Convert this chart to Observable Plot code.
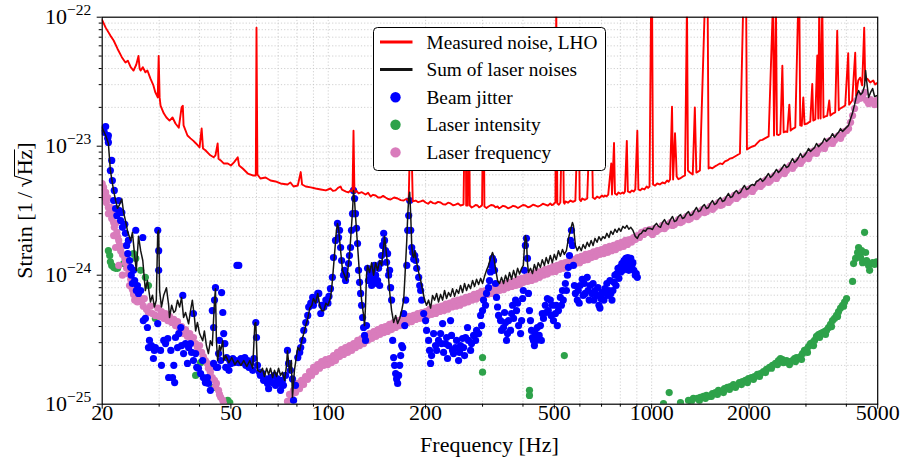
<!DOCTYPE html>
<html>
<head>
<meta charset="utf-8">
<script src="https://cdn.jsdelivr.net/npm/d3@7"></script>
<script src="https://cdn.jsdelivr.net/npm/@observablehq/plot@0.6"></script>
<style>
  html, body { margin: 0; padding: 0; background: #fff; }
  #chart { width: 908px; height: 467px; }
</style>
</head>
<body>
<div id="chart"></div>
<script>
// Strain values are given in units of 1e-24 1/sqrt(Hz); frequencies in Hz.
const UNIT = 1e-24;

const seriesNames = ["Measured noise, LHO", "Sum of laser noises", "Beam jitter", "Laser intensity", "Laser frequency"];
const seriesColors = ["#ff0000", "#141414", "#0000ff", "#2ea24a", "#d97cbc"];
const seriesKinds = ["line", "line", "dot", "dot", "dot"];

const xMajorTicks = [20, 50, 100, 200, 500, 1000, 2000, 5000];
const xTickLabels = ["20", "50", "100", "200", "500", "1000", "2000", "5000"];
const xMinorTicks = [30, 40, 60, 70, 80, 90, 300, 400, 600, 700, 800, 900, 3000, 4000];
const xGrid = [30, 40, 50, 60, 70, 80, 90, 100, 200, 300, 400, 500, 600, 700, 800, 900, 1000, 2000, 3000, 4000];
const yMajorTicks = [1e-25, 1e-24, 1e-23, 1e-22];
const yTickExponents = ["−25", "−24", "−23", "−22"];
const yMinorTicks = [2e-25, 3e-25, 4e-25, 5e-25, 6e-25, 7e-25, 8e-25, 9e-25, 2e-24, 3e-24, 4e-24, 5e-24, 6e-24, 7e-24, 8e-24, 9e-24, 2e-23, 3e-23, 4e-23, 5e-23, 6e-23, 7e-23, 8e-23, 9e-23];
const yGrid = yMinorTicks.concat([1e-24, 1e-23]);

const measuredNoise = [
[20.0,95],[20.5,83],[21.2,72],[21.7,66],[22.3,57],[23.0,49],[23.6,44.5],[24.0,46],[24.5,41],[25.0,38.6],[25.5,43],[25.9,50],[26.1,40],[26.3,38.6],[26.7,41],[27.2,37.4],[27.6,38.6],[28.2,33.4],[28.8,29.6],[29.2,26.1],[29.7,23.9],[29.9,50],[30.1,23.9],[30.3,20.6],[31.0,18],[31.6,16.7],[32.3,15.8],[33.0,16.7],[33.7,15.0],[34.5,13.9],[35.2,20],[35.5,20.6],[35.7,14.5],[36.7,12.1],[37.5,11.5],[38.3,11.0],[39.0,10.5],[40.0,9.8],[40.6,13.7],[41.0,9.6],[41.7,9.3],[42.6,8.8],[43.2,8.5],[44.2,8.2],[44.8,8.5],[45.5,10.5],[45.8,8.0],[46.5,7.76],[47.5,7.35],[48.9,7.35],[50.0,7.09],[51.1,7.5],[52.5,8.2],[53.0,7.09],[54.4,6.72],[56.4,6.14],[58.4,5.93],[59.7,5.93],[60.0,83],[60.4,6.03],[61.7,5.62],[64.0,5.72],[66.3,5.42],[68.7,5.33],[71.2,5.14],[74.8,5.05],[76.4,5.23],[78.1,4.87],[80.5,4.96],[82.2,6.3],[83.0,5.05],[85.2,4.87],[88.3,4.79],[91.4,4.70],[94.8,4.62],[98.3,4.54],
[101.6,4.70],[103.4,4.50],[105.3,4.54],[107.2,4.75],[109.2,4.87],[110.3,4.6],[111.5,4.54],[113.5,4.45],[115.5,4.38],[117.2,4.55],[118.9,4.46],[119.7,13.2],[120.5,4.38],[122.3,4.5],[124.1,4.30],[127,4.40],[130.4,4.22],[132.8,4.35],[135.2,4.07],[137.6,4.2],[140.1,4.15],[142.6,4.0],[145.2,4.0],[147.8,4.12],[150.4,4.0],[153,3.9],[155.9,3.86],[159.8,4.0],[163.9,3.93],[167.5,3.82],[171.1,3.79],[174.2,3.9],[177.3,3.79],[179.9,20],[182.5,3.73],
[186.4,3.79],[189.7,3.68],[193.1,3.73],[196.5,3.8],[200,3.66],[203.6,3.58],[207.2,3.73],[211,3.62],[214.7,3.60],[218.6,3.70],[222.5,3.66],[226.5,3.55],[230.5,3.53],[234.7,3.65],[238.9,3.60],[243.2,3.48],[247.5,3.53],[252,3.60],[256.5,3.47],[262,3.53],[265.8,50],[267,3.47],[270,3.47],[272,40],[274,3.47],[277.7,3.35],[281.4,3.41],[285.5,3.50],[289.6,3.47],[292.7,3.36],[295.9,3.41],[299,3.5],[302.1,50],[304,3.41],[308.5,3.32],[313,3.41],[318.7,3.50],[324.4,3.47],[329,3.36],[333.8,3.41],[337.4,3.30],[341,3.35],[347,3.45],[353,3.41],[359.5,3.30],[366,3.35],[372.7,3.45],[379.5,3.41],[386,3.32],[393,3.41],[400,3.50],[407,3.47],[414.5,3.36],[422,3.41],[429.5,3.52],[437,3.47],[445,3.40],[453,3.47],[461,3.58],[469,3.53],[477.5,3.46],[486,3.60],[491,3.50],[497,3.53],[500.5,3.62],[504,3.66],[507,130],[511,3.60],[516.5,3.52],[522,3.66],[531,30],[535,3.66],[538,3.58],[541,3.73],[551,3.65],[561,3.79],[571,3.70],[581,3.79],[595,30],[599,3.86],[604.5,3.76],[610,3.93],[621,3.84],[632,3.93],[650,30],[658,4.0],[668,3.9],[678,4.07],[690,3.97],[702,4.15],[709.5,4.05],[717,4.15],[725.5,4.08],[734,4.22],[750,7.35],[754,4.22],[765,10.6],[770,4.30],[780,4.2],[790,4.38],[801,4.28],[813,4.38],[820,4.3],[827,4.46],[838,11.0],[844,4.46],[856.5,4.38],[869,4.54],[879.5,4.45],[890,4.62],[903,13.2],[910,4.62],[922.5,4.55],[935,4.70],[950,4.62],[965,4.87],[975,4.75],[985,4.87],[996,130],[1003,130],[1010,5.05],[1025,4.95],[1040,5.14],[1060,5.05],[1080,5.23],[1098,5.15],[1116,5.42],[1128,5.3],[1140,5.52],[1156,20.2],[1165,5.52],[1181,12.6],[1190,8],[1195,5.82],[1210,5.55],[1224,5.62],[1246,5.8],[1268,5.93],[1286,130],[1295,6.48],[1313,6.25],[1340,6.03],[1360,20],[1375,6.25],[1392,6.35],[1410,6.48],[1461,130],[1475,130],[1490,130],[1500,6.72],[1514,6.84],[1541,6.75],[1569,6.97],[1597,7.15],[1626,7.35],[1655,7.25],[1685,7.62],[1715,7.75],[1746,8.02],[1777,8.1],[1809,8.32],[1842,8.55],[1875,8.78],
[1920,130],[1940,130],[1960,130],[1971,9.43],[2014,9.75],[2050,9.95],[2086,10.1],[2124,10.6],[2162,11.1],[2200,11.2],[2240,11.5],[2270,11.7],[2300,11.9],[2372,130],[2390,12.1],[2423,130],[2440,12.3],[2470,12.2],[2500,12.5],[2536,42],[2560,12.8],[2590,13.0],[2627,12.9],[2665,21],[2690,13.2],[2715,13.5],[2740,13.7],[2781,14.0],[2840,130],[2862,130],[2880,14.5],[2912,14.4],[2944,23.9],[2970,14.8],[3029,15.0],[3060,15.3],[3094,15.5],[3138,30.4],[3160,15.8],[3206,16.1],[3252,50.5],[3275,16.4],[3298,130],[3330,16.4],[3369,130],[3400,16.7],[3441,17.0],[3490,17.2],[3541,22.6],[3570,17.3],[3610,17.7],[3643,18.0],[3695,18.3],[3748,78.6],[3790,19.0],[3829,19.6],[3900,20.1],[3967,20.7],[4053,52.5],[4080,21.0],[4170,22.6],[4260,53],[4290,24.7],[4352,32.3],[4414,34],[4477,29.6],[4542,83],[4574,32.3],[4640,33.4],[4740,31.2],[4843,32.3],[4912,30.1],[4990,31]
];

const laserSum = [
[20.0,13.9],[20.5,12.1],[20.9,10.5],[21.2,6.5],[21.5,5.2],[21.7,4.5],[22.0,3.8],[22.3,3.3],[22.6,3.5],[23.0,3.9],[23.3,3.05],[23.6,2.65],[24.0,2.15],[24.5,1.86],[24.8,2.15],[25.2,1.42],[25.5,1.09],[25.9,2.0],[26.3,1.55],[26.7,1.3],[27.2,0.76],[27.6,0.91],[28.2,0.62],[28.6,0.70],[29.0,0.567],[29.4,0.64],[29.7,2.15],[29.9,2.23],[30.1,0.76],[30.5,0.567],[31.0,0.70],[31.6,0.80],[32.1,0.585],[32.3,0.47],[32.8,0.585],[33.3,0.514],[33.7,0.53],[34.2,0.64],[34.7,0.567],[35.2,0.67],[35.7,0.47],[36.2,0.514],[37.0,0.42],[37.5,0.53],[38.0,0.64],[38.6,0.46],[38.9,0.37],[39.4,0.43],[40.0,0.353],[40.9,0.31],[41.4,0.37],[42.0,0.285],[42.6,0.247],[43.2,0.31],[43.8,0.285],[44.5,0.64],[44.8,0.786],[45.1,0.31],[45.5,0.218],[46.1,0.285],[46.5,0.26],[47.2,0.31],[47.5,0.218],[48.2,0.238],[49.3,0.21],[50.3,0.23],[51.4,0.203],[52.5,0.218],[53.7,0.20],[54.8,0.218],[56.0,0.196],[57.2,0.218],[58.4,0.19],[59.3,0.422],[59.7,0.43],[60.4,0.183],[61.7,0.177],[62.6,0.19],[63.5,0.164],[64.5,0.19],[65.4,0.17],[66.3,0.19],[67.3,0.161],[68.2,0.183],[69.2,0.164],[70.2,0.19],[71.2,0.167],[72.2,0.177],[73.3,0.153],[74.3,0.20],[74.8,0.26],[75.9,0.177],[76.9,0.218],[77.5,0.113],[78.6,0.183],[79.8,0.238],[80.5,0.275],[81.6,0.26],[82.8,0.31],[84.0,0.353],[85.2,0.407],[86.4,0.46],[87.7,0.556],[89.0,0.585],[90.0,0.66],[91.4,0.607],[92.8,0.722],[94.1,0.585],[95.5,0.53],[96.9,0.53],[98.3,0.607],[99.8,0.585],[101,0.64],[101.6,0.672],[102.3,0.76],[103,0.91],[104.5,1.42],[106,2.23],[106.8,2.52],[107.6,2.31],[109.2,1.55],[110.7,1.09],[112.3,1.0],[113.9,0.91],[114.7,1.05],[116.3,1.42],[117.2,1.86],[118.9,3.17],[119.7,4.54],[120.6,3.79],[121.4,2.9],[123.2,1.70],[125.0,1.0],[126.8,0.64],[128.6,0.488],[129.5,0.407],[130.4,0.585],[131.3,1.0],[132.3,1.19],[134.2,1.05],[136.2,1.25],[138.1,1.0],[140.1,1.25],[142.1,1.09],[144.2,1.30],[146.2,1.19],[148.4,1.70],[149.3,2.0],[150.4,1.70],[152.6,1.19],[154.7,0.761],[157,0.532],[159.3,0.43],[161.6,0.488],[163.9,0.422],[166.3,0.462],[168.7,0.532],[171.1,0.641],[172.4,0.91],[174.9,1.86],[176.1,2.9],[177.3,3.93],[178.6,4.4],[179.9,2.9],[181.2,1.70],[182.5,1.42],[183.8,1.37],[185.1,1.55],[187.7,1.25],[190.4,1.05],[193.1,0.91],[195.9,0.761],[198.6,0.641],[201.4,0.585],[204.3,0.641],[207.2,0.556],[210.2,0.697],[213.2,0.641],[216.3,0.722],[219.3,0.62],[222.5,0.71],[225.7,0.641],[228.9,0.761],[232.2,0.66],[235.5,0.734],[238.9,0.685],[242.3,0.786],[245.8,0.685],[249.3,0.773],[252.9,0.722],[256.5,0.832],[260.2,0.734],[263.9,0.862],[267.7,0.761],[271.5,0.847],[275.5,0.786],[279.4,0.91],[283.4,0.817],[287.5,0.93],[291.7,0.847],[295.9,0.945],[300,0.862],[304.3,0.98],[308.6,1.09],[313,1.19],[317.5,1.35],[322,1.5],[324.4,1.42],[329,1.13],[333.8,0.91],[338.6,0.862],[343.4,0.962],[348.4,0.862],[353.4,1.0],[358.4,0.895],[363.6,1.05],[368.8,0.93],[374.2,1.09],[379.5,0.962],[385,1.13],[390.5,1.02],[396.2,1.13],[401,1.19],[404,1.61],[407,2.03],[410,1.86],[413,1.25],[416,1.05],[422,1.13],[428,1.03],[434,1.21],[440,1.09],[446,1.25],[453,1.15],[459,1.32],[466,1.19],[472,1.37],[479,1.23],[486,1.42],[493,1.25],[500,1.45],[507,1.32],[515,1.55],[522,1.40],[530,1.58],[537,1.45],[545,1.55],[553,1.93],[561,2.23],[569,2.56],[573,2.43],[581,1.70],[589,1.55],[597,1.67],[606,1.55],[614,1.73],[623,1.61],[632,1.80],[641,1.67],[650,1.86],[659,1.70],[668,1.93],[678,1.80],[687,1.99],[697,1.86],[707,1.99],[717,1.93],[727,2.11],[738,1.96],[748,2.19],[759,2.07],[770,2.27],[781,2.15],[792,2.31],[803,2.19],[815,2.39],[827,2.31],[838,2.43],[850,2.27],[862,2.35],[875,2.23],[890,2.0],[903,1.93],[916,2.07],[929,2.11],[943,2.23],[957,2.19],[971,2.31],
[992,2.30],[1006,2.26],[1021,2.43],[1035,2.52],[1050,2.39],[1065,2.35],[1080,2.56],[1096,2.70],[1111,2.52],[1127,2.47],[1143,2.70],[1160,2.85],[1176,2.61],[1193,2.65],[1210,2.85],[1228,2.95],[1245,2.75],[1263,2.80],[1281,3.0],[1300,3.11],[1318,2.90],[1337,2.95],[1356,3.17],[1376,3.35],[1395,3.11],[1415,3.17],[1436,3.41],[1456,3.53],[1477,3.29],[1498,3.35],[1520,3.60],[1542,3.79],[1564,3.53],[1586,3.60],[1609,3.86],[1632,4.0],[1655,3.73],[1679,3.79],[1703,4.07],[1728,4.30],[1752,4.0],[1777,4.07],[1803,4.38],[1829,4.54],[1855,4.30],[1882,4.38],[1909,4.70],[1936,4.96],[1964,4.62],[1992,4.70],[2021,4.96],[2050,5.05],[2079,4.96],[2109,5.33],[2139,5.42],[2170,5.62],[2201,5.33],[2233,5.52],[2265,5.82],[2297,6.14],[2330,5.72],[2364,5.93],[2398,6.25],[2432,6.60],[2467,6.25],[2502,6.48],[2538,6.84],[2575,7.22],[2612,6.84],[2649,6.97],[2687,7.48],[2726,8.02],[2765,7.48],[2805,7.75],[2845,8.17],[2886,8.78],[2927,8.17],[2969,8.47],[3012,8.94],[3055,9.6],[3099,9.10],[3143,9.43],[3189,9.75],[3234,10.5],[3281,9.92],[3328,10.3],[3376,10.7],[3424,11.5],[3473,10.9],[3523,11.3],[3574,11.7],[3625,12.5],[3677,11.7],[3730,12.3],[3784,12.8],[3838,13.7],[3893,13.0],[3949,13.5],[4006,14.0],[4063,14.5],[4122,16.3],[4181,18.2],[4241,21.0],[4302,24.7],[4364,27.0],[4426,25.1],[4490,26.1],[4554,29.5],[4587,38.6],[4620,32.3],[4686,23.9],[4753,26.1],[4822,28.0],[4891,24.3],[4990,24.7]
];

const beamJitter = [
[20.2,13.7],[20.3,12.8],[20.5,14.2],[20.8,11.5],[20.9,10.7],[20.9,12.1],[21.2,6.48],[21.4,7.76],[21.5,5.42],[21.7,3.79],[21.8,4.54],[22.0,3.29],[22.2,2.9],[22.5,3.79],[22.6,3.17],[22.8,2.65],[23.0,3.06],[23.1,2.35],[23.5,2.48],[23.6,2.11],[23.8,1.70],[24.0,1.47],[24.1,1.86],[24.3,1.30],[24.5,1.15],[24.6,1.0],[24.8,0.862],[25.0,1.09],[25.2,0.91],[25.4,2.23],[25.5,0.761],[25.7,0.832],[25.9,0.722],[26.3,0.761],[26.7,1.96],[26.8,0.445],[27.2,0.462],[27.6,0.393],[27.8,0.275],[28.0,0.312],[28.4,0.285],[28.6,0.275],[28.8,0.226],[29.0,0.261],[29.2,0.275],[29.7,2.23],[29.7,0.422],[29.9,1.09],[29.9,1.55],[30.3,0.261],[30.5,0.200],[31.0,0.312],[31.4,0.295],[31.9,0.323],[32.1,0.161],[32.6,0.261],[33.0,0.161],[33.3,0.200],[33.5,0.147],[33.7,0.329],[34.2,0.275],[34.5,0.353],[35.0,0.393],[35.2,0.285],[35.5,0.697],[35.7,0.247],[36.2,0.295],[36.7,0.207],[37.0,0.275],[37.5,0.295],[37.8,0.252],[38.3,0.505],[38.3,0.218],[38.9,0.247],[39.2,0.193],[39.7,0.190],[40.3,0.173],[40.9,0.218],[41.1,0.161],[41.7,0.147],[42.3,0.161],[42.6,0.145],[43.2,0.128],[43.8,0.532],[44.2,0.393],[44.2,0.207],[44.5,0.641],[44.8,0.80],[45.1,0.193],[45.5,0.193],[45.8,0.247],[46.1,0.312],[46.5,0.218],[46.8,0.734],[47.2,0.514],[47.5,0.353],[47.9,0.295],[48.2,0.193],[48.5,0.230],[49.3,0.183],[49.6,0.218],[50.0,0.207],[50.7,0.226],[51.1,0.210],[51.8,0.218],[52.2,1.19],[52.9,1.19],[52.9,0.210],[53.7,0.226],[54.4,0.210],[55.2,0.230],[55.6,0.200],[56.4,0.218],[56.8,0.193],[57.6,0.210],[58.4,0.183],[58.9,0.226],[59.7,0.43],[60.0,0.329],[60.4,0.200],[61.3,0.177],[61.7,0.167],[62.6,0.173],[63.1,0.153],[64.0,0.157],[64.9,0.145],[65.4,0.132],[66.3,0.161],[67.3,0.147],[68.2,0.167],[68.7,0.140],[69.7,0.157],[70.7,0.145],[71.2,0.128],[72.2,0.153],[72.7,0.140],[73.8,0.167],[74.8,0.261],[75.4,0.207],[76.4,0.183],[77.5,0.157],[78.1,0.107],[79.2,0.140],[80.5,0.230],[81.6,0.252],[82.2,0.275],[83.4,0.312],[84.0,0.373],[85.2,0.43],[86.4,0.488],[87.0,0.567],[88.3,0.607],[89.5,0.672],[90.0,0.585],[91.4,0.641],[92.8,0.722],[93.5,0.722],[94.8,0.505],[95.5,0.585],[96.9,0.567],[98.3,0.641],[99.8,0.607],[100.5,0.685],[101.6,0.786],[103.0,0.962],[103.8,1.37],[105.3,1.86],[106.8,2.52],[107.6,1.96],[108.4,2.23],[109.2,1.64],[110,1.30],[111.5,1.0],[112.3,1.09],[113.1,0.91],[113.9,1.0],[115.5,1.23],[116.3,1.42],[117.2,1.64],[118,2.23],[118.9,3.0],[119.7,4.54],[120.6,3.93],[121.4,3.0],[122.3,2.31],[123.2,1.76],[124.1,1.09],[125,0.88],[125.9,0.722],[126.8,0.585],[127.7,0.47],[128.6,0.393],[129.5,0.341],[130.4,0.312],[131.3,0.407],[132.3,1.13],[133.2,0.91],[134.2,1.05],[135.2,0.962],[136.2,0.832],[137.1,1.09],[138.1,0.91],[139.1,1.19],[140.1,1.0],[141.1,0.862],[142.1,0.91],[143.1,1.13],[144.2,0.832],[145.2,1.23],[146.2,1.42],[147.3,1.70],[148.4,2.11],[149.3,1.86],[150.4,1.55],[151.5,1.26],[152.6,1.47],[153.7,1.0],[154.8,1.09],[155.9,0.80],[157,0.641],[158.2,0.312],[159.3,0.230],[160.4,0.200],[161.6,0.173],[162.7,0.157],[163.9,0.145],[165.1,0.167],[166.3,0.200],[167.5,0.238],[168.7,0.285],[169.9,0.275],[171.1,0.505],[172.4,0.407],[173.6,0.641],[174.9,1.19],[176.1,2.23],[177.3,2.9],[178.6,3.79],[179.9,2.23],[181.2,1.64],[182.5,1.5],[183.8,1.33],[185.1,1.42],[186.4,1.30],[187.7,1.13],[190.4,0.962],[191.8,0.832],[193.1,0.761],[194.5,0.641],[197.3,0.505],[200,0.445],[201.4,0.373],[204.3,0.312],[205.7,0.261],[207.2,0.207],[208.7,0.238],[211.7,0.353],[214.7,0.285],[216.3,0.261],[219.3,0.312],[222.5,0.353],[224,0.295],[225.7,0.422],[227.3,0.252],[230.5,0.295],[232.2,0.329],[233.8,0.226],[235.5,0.285],[238.9,0.445],[240.6,0.341],[242.3,0.261],[244.0,0.247],[247.5,0.275],[249.3,0.312],[252.9,0.218],[254.7,0.252],[256.5,0.285],[260.2,0.323],[262.1,0.275],[263.9,0.238],[265.8,0.329],[269.6,0.393],[271.5,0.312],[275.5,0.261],[277.4,0.295],[281.4,0.341],[285.5,0.312],[287.5,0.373],[291.7,0.353],[295.9,0.488],[298,0.407],[300,0.532],[302.1,0.641],[306.4,0.585],[308.6,0.722],[313,0.80],[315.2,0.91],[317.5,1.06],[319.7,1.19],[322,1.35],[324.4,1.30],[326.7,1.09],[329,0.862],[331.4,0.672],[333.8,0.567],[336.2,0.488],[341,0.445],[343.4,0.373],[348.4,0.393],[350.9,0.514],[353.4,0.43],[355.9,0.312],[358.4,0.353],[361,0.445],[366.2,0.373],[368.8,0.505],[371.5,0.585],[374.2,0.462],[379.5,0.641],[382.2,0.532],[385,0.607],[387.8,0.407],[393.3,0.353],[396.2,0.445],[399,0.66],[401,0.761],[404,1.09],[407,1.70],[410,1.93],[413,1.35],[416,0.722],[419,0.532],[422,0.445],[425,0.373],[428,0.329],[431,0.312],[434,0.285],[437,0.353],[440,0.312],[443,0.393],[449,0.341],[453,0.407],[456,0.312],[459,0.505],[463,0.462],[469,0.585],[472,0.514],[476,0.66],[479,0.532],[486,0.641],[489,0.488],[493,0.585],[497,0.445],[504,0.505],[507,0.585],[511,0.407],[515,0.532],[522,0.672],[526,0.585],[530,0.761],[533,0.641],[541,0.862],[545,0.761],[549,1.0],[553,1.15],[557,1.42],[561,1.86],[565,2.23],[569,1.70],[573,1.19],[577,0.832],[581,0.722],[589,0.641],[593,0.761],[597,0.607],[601,0.832],[610,0.93],[614,0.697],[619,0.862],[623,0.722],[632,0.962],[636,0.761],[641,0.641],[645,0.832],[654,0.722],[659,0.862],[663,0.641],[668,0.761],[678,0.697],[682,0.80],[687,0.585],[692,0.556],[697,0.66],[702,0.734],[707,0.722],[712,0.641],[717,0.786],[727,0.862],[733,0.697],[738,0.761],[743,0.91],[748,0.722],[754,0.641],[759,0.761],[765,0.88],[770,1.0],[776,0.832],[781,1.03],[787,1.13],[792,0.945],[798,1.15],[803,1.06],[809,1.23],[815,1.09],[821,1.30],[827,1.13],[832,1.35],[838,1.19],[844,1.37],[850,1.09],[856,1.25],[862,1.35],[869,1.19],[875,1.25],[881,1.09],[890,1.0],[896,1.03],[903,0.962]
];

const laserIntensity = [
[20.9,1.55],[21.1,1.42],[21.2,1.27],[21.4,1.19],[21.7,1.15],[22.0,1.13],[22.3,1.13],[23.3,1.23],[25.0,1.47],[25.4,1.35],[26.3,1.09],[27.2,0.962],[27.8,0.832],[29.2,0.462],[38.9,0.167],[40.3,0.21],[44.2,0.135],[48.9,0.107],[49.6,0.103],
[300,0.230],[300,0.177],[419,0.128],[419,0.117],[537,0.238],
[1088,0.101],[1133,0.123],[1228,0.103],[1300,0.107],[1327,0.105],[1346,0.111],[1386,0.111],[1405,0.107],[1415,0.113],[1446,0.115],[1467,0.111],[1477,0.117],[1509,0.115],[1531,0.115],[1542,0.121],[1575,0.123],[1597,0.119],[1609,0.128],[1643,0.126],[1667,0.123],[1679,0.132],[1715,0.135],[1740,0.130],[1752,0.137],[1790,0.142],[1816,0.135],[1829,0.140],[1868,0.147],[1895,0.142],[1909,0.150],[1950,0.153],[1978,0.147],[1992,0.158],[2035,0.161],[2064,0.156],[2079,0.164],[2124,0.170],[2155,0.164],[2170,0.173],[2217,0.179],[2249,0.176],[2265,0.186],[2314,0.193],[2347,0.190],[2364,0.200],[2415,0.207],[2450,0.203],[2467,0.218],[2502,0.226],[2538,0.222],[2556,0.210],[2575,0.214],[2612,0.218],[2649,0.210],[2668,0.203],[2687,0.214],[2726,0.218],[2765,0.226],[2785,0.214],[2805,0.230],[2845,0.226],[2886,0.234],[2906,0.222],[2927,0.247],[2969,0.261],[3012,0.265],[3033,0.252],[3055,0.280],[3099,0.295],[3143,0.300],[3166,0.285],[3189,0.312],[3234,0.335],[3281,0.347],[3305,0.329],[3328,0.353],[3376,0.359],[3424,0.366],[3448,0.347],[3473,0.373],[3523,0.393],[3574,0.415],[3599,0.40],[3625,0.445],[3677,0.462],[3730,0.488],[3757,0.479],[3784,0.523],[3838,0.556],[3893,0.585],[3921,0.575],[3949,0.62],[4006,0.66],[4181,0.895],[4211,1.23],[4272,1.35],[4333,1.50],[4364,1.64],[4395,1.42],[4426,1.37],[4458,1.55],[4490,1.25],[4554,2.15],[4587,1.50],[4620,1.30],[4686,1.19],[4720,1.09],[4753,1.23],[4822,1.25],[4891,1.21],[4961,1.27]
];

const laserFrequency = [
[20.0,5.14],[20.0,4.38],[20.2,4.79],[20.3,4.0],[20.5,4.38],[20.6,3.66],[20.8,4.0],[20.9,3.35],[20.9,3.0],[21.1,3.06],[21.2,3.35],[21.4,2.75],[21.5,3.0],[21.7,2.56],[21.7,2.03],[21.8,2.35],[22.0,2.52],[22.0,1.64],[22.2,2.15],[22.3,1.99],[22.5,1.86],[22.5,1.19],[22.6,1.70],[22.8,1.55],[23.0,1.67],[23.1,1.45],[23.1,1.0],[23.5,1.35],[23.6,1.25],[23.8,1.13],[24.0,1.21],[24.1,1.02],[24.3,0.832],[24.5,0.93],[24.6,0.817],[24.8,0.773],[25.0,0.71],[25.2,0.641],[25.4,0.66],[25.7,0.62],[26.1,0.672],[26.5,0.62],[26.8,0.575],[27.0,0.66],[27.4,0.545],[27.8,0.514],[28.2,0.575],[28.6,0.505],[29.2,0.488],[29.7,0.556],[30.1,0.479],[30.5,0.523],[31.0,0.462],[31.4,0.505],[31.9,0.445],[32.3,0.479],[32.8,0.43],[33.3,0.454],[33.7,0.407],[34.2,0.437],[34.7,0.386],[35.2,0.40],[35.7,0.353],[36.2,0.379],[36.7,0.335],[37.3,0.353],[37.8,0.312],[38.3,0.329],[38.9,0.295],[39.4,0.275],[40.0,0.285],[40.6,0.252],[41.1,0.234],[41.7,0.218],[42.3,0.207],[42.6,0.190],[43.2,0.177],[43.5,0.193],[43.8,0.161],[44.5,0.153],[44.8,0.137],[45.1,0.145],[45.8,0.128],[46.1,0.119],[46.5,0.113],[47.2,0.107],[47.5,0.10],
[74.8,0.105],[75.9,0.119],[77.0,0.111],[78.1,0.128],[79.2,0.123],[80.3,0.145],[81.5,0.132],[82.7,0.153],[83.9,0.142],[85.1,0.164],[86.3,0.156],[87.5,0.179],[88.8,0.167],[90.1,0.193],[91.4,0.179],[92.7,0.203],[94.0,0.190],[95.4,0.214],[96.8,0.200],[98.2,0.222],[99.6,0.203],[100.9,0.226],[102.3,0.210],[103.8,0.238],[105.3,0.218],[106.8,0.252],[108.4,0.234],[109.9,0.265],[111.5,0.243],[113.1,0.275],[114.8,0.252],[116.4,0.285],[118.1,0.261],[119.8,0.295],[121.5,0.275],[123.3,0.312],[125.0,0.285],[126.8,0.323],[128.7,0.295],[130.5,0.335],[132.4,0.312],[134.3,0.353],[136.3,0.323],[138.3,0.366],[140.3,0.335],[142.3,0.379],[144.3,0.347],[146.4,0.393],[148.5,0.359],[150.3,0.40],[152.5,0.366],[154.7,0.415],[156.9,0.379],[159.2,0.43],[161.5,0.393],[163.8,0.445],[166.2,0.407],[168.6,0.454],[171.0,0.415],[173.5,0.462],[176.0,0.43],[178.5,0.479],[181.1,0.437],[183.7,0.488],[186.4,0.454],[189.1,0.505],[191.8,0.462],[194.6,0.514],[197.4,0.470],[200.2,0.523],[203.0,0.488],[206.0,0.545],[208.9,0.497],[211.9,0.556],[215.0,0.505],[218.1,0.567],[221.2,0.523],[224.4,0.575],[227.7,0.532],[231.0,0.596],[234.3,0.545],[237.7,0.607],[241.1,0.567],[244.6,0.63],[248.2,0.575],[251.8,0.641],[255.4,0.585],[259.1,0.653],[262.8,0.607],[266.6,0.672],[270.5,0.62],[274.4,0.685],[278.3,0.641],[282.4,0.71],[286.4,0.653],[290.6,0.722],[294.8,0.672],[297.9,0.748],[302.1,0.685],[306.4,0.761],[310.8,0.71],[315.3,0.786],[319.9,0.722],[324.5,0.80],[329.2,0.748],[334.0,0.832],[338.8,0.761],[343.7,0.847],[348.6,0.773],[353.7,0.862],[358.8,0.80],[364.0,0.88],[369.2,0.817],[374.5,0.895],[379.9,0.832],[385.4,0.93],[391.0,0.847],[396.7,0.945],[401,0.88],[407,0.962],[413,0.895],[419,1.0],[425,0.91],[431,1.02],[437,0.93],[443,1.06],[450,0.962],[456,1.07],[463,1.0],[469,1.11],[476,1.02],[483,1.13],[490,1.06],[497,1.17],[504,1.07],[511,1.19],[519,1.11],[526,1.23],[534,1.13],[541,1.25],[549,1.17],[557,1.30],[565,1.19],[573,1.32],[582,1.23],[590,1.37],[599,1.25],[607,1.40],[616,1.30],[625,1.45],[634,1.32],[643,1.47],[652,1.37],[661,1.52],[671,1.40],[680,1.55],[690,1.45],[700,1.58],[710,1.47],[720,1.64],[731,1.50],[741,1.67],[752,1.55],[763,1.70],[774,1.58],[785,1.76],[796,1.64],[807,1.80],[818,1.67],[830,1.86],[842,1.73],[854,1.89],[866,1.80],[879,1.96],[891,1.89],[904,2.03],[917,1.96],[931,2.15],[944,2.07],[958,2.22],[972,2.15],[986,2.26],
[992,2.18],[1006,2.07],[1021,2.30],[1035,2.18],[1050,2.26],[1065,2.30],[1080,2.43],[1096,2.30],[1111,2.39],[1127,2.47],[1143,2.56],[1160,2.43],[1176,2.47],[1193,2.56],[1210,2.70],[1228,2.56],[1245,2.61],[1263,2.75],[1281,2.85],[1300,2.70],[1318,2.75],[1337,2.90],[1356,3.0],[1376,2.85],[1395,2.95],[1415,3.11],[1436,3.23],[1456,3.06],[1477,3.11],[1498,3.29],[1520,3.41],[1542,3.23],[1564,3.35],[1586,3.53],[1609,3.66],[1632,3.47],[1655,3.53],[1679,3.73],[1703,3.86],[1728,3.66],[1752,3.79],[1777,4.0],[1803,4.15],[1829,3.93],[1855,4.07],[1882,4.30],[1909,4.46],[1936,4.22],[1964,4.38],[1992,4.62],[2021,4.70],[2050,4.46],[2079,4.70],[2109,4.87],[2139,5.14],[2170,4.87],[2201,5.05],[2233,5.33],[2265,5.52],[2297,5.23],[2330,5.42],[2364,5.72],[2398,5.93],[2432,5.62],[2467,5.93],[2502,6.25],[2538,6.48],[2575,6.14],[2612,6.48],[2649,6.84],[2687,7.09],[2726,6.72],[2765,7.09],[2805,7.48],[2845,7.75],[2886,7.35],[2927,7.75],[2969,8.17],[3012,8.47],[3055,8.02],[3099,8.62],[3143,9.10],[3189,9.26],[3234,8.78],[3281,9.43],[3328,9.92],[3376,10.1],[3424,9.6],[3473,10.3],[3523,10.9],[3574,11.1],[3625,10.5],[3677,11.1],[3730,11.7],[3784,12.1],[3838,11.5],[3893,12.3],[3949,13.0],[4006,13.2],[4063,13.7],[4122,15.3],[4181,17.3],[4241,19.6],[4302,22.6],[4364,24.7],[4426,23.5],[4490,24.3],[4554,26.1],[4620,22.6],[4686,21.4],[4753,23.0],[4822,22.2],[4891,21.0],[4961,22.6],[4990,21.8]
];

const toRecords = arr => arr.map(([f, v]) => ({f, s: v * UNIT}));
const yLabel = new Map(yMajorTicks.map((d, i) => [d, "10^" + yTickExponents[i]]));

const FONT = '"Liberation Serif", "Times New Roman", serif';
const AXIS_FS = 22;
const LEGEND_FS = 19.3;
const gridStyle = {stroke: "#c4c4c4", strokeOpacity: 1, strokeWidth: 0.8, strokeDasharray: "1.2,2"};

const chart = Plot.plot({
  width: 908,
  height: 467,
  marginLeft: 101.7,
  marginRight: 30.8,
  marginTop: 16.7,
  marginBottom: 63.3,
  style: {fontFamily: FONT, fontSize: AXIS_FS + "px", background: "white", color: "black"},
  x: {type: "log", domain: [20, 5000], label: null},
  y: {type: "log", domain: [1e-25, 1e-22], label: null},
  marks: [
    Plot.gridX(xGrid, gridStyle),
    Plot.gridY(yGrid, gridStyle),
    Plot.dot(toRecords(laserIntensity), {x: "f", y: "s", r: 3.6, fill: seriesColors[3], clip: true}),
    Plot.dot(toRecords(laserFrequency), {x: "f", y: "s", r: 3.6, fill: seriesColors[4], clip: true}),
    Plot.dot(toRecords(beamJitter), {x: "f", y: "s", r: 3.6, fill: seriesColors[2], clip: true}),
    Plot.line(toRecords(measuredNoise), {x: "f", y: "s", stroke: seriesColors[0], strokeWidth: 1.9, clip: true}),
    Plot.line(toRecords(laserSum), {x: "f", y: "s", stroke: seriesColors[1], strokeWidth: 1.5, clip: true}),
    Plot.axisX(xMinorTicks, {tickSize: 3, tickFormat: () => "", label: null}),
    Plot.axisX(xMajorTicks, {tickSize: 5, tickFormat: () => "", label: null}),
    Plot.text(xMajorTicks, {x: d => d, text: (d, i) => xTickLabels[i], frameAnchor: "bottom", dy: 16, fontSize: AXIS_FS, fontFamily: FONT, fill: "black"}),
    Plot.axisY(yMinorTicks, {tickSize: 3, tickFormat: () => "", label: null}),
    Plot.axisY(yMajorTicks, {tickSize: 5, tickPadding: 6, fontSize: AXIS_FS, fontFamily: FONT, tickFormat: d => yLabel.get(d), label: null}),
    Plot.frame({stroke: "black", strokeWidth: 1.2})
  ]
});

document.getElementById("chart").appendChild(chart);
const svg = d3.select(chart.tagName.toLowerCase() === "svg" ? chart : chart.querySelector("svg"));

// superscript exponents on y tick labels
svg.selectAll('g[aria-label="y-axis tick label"] text').each(function() {
  const t = this.textContent;
  if (!t || t.indexOf("^") < 0) return;
  const [base, exp] = t.split("^");
  const sel = d3.select(this);
  sel.text("");
  sel.append("tspan").text(base);
  sel.append("tspan").attr("dy", -9).attr("font-size", 15.5).text(exp);
});

// axis titles
svg.append("text")
  .attr("x", (101.7 + 877.2) / 2).attr("y", 452)
  .attr("text-anchor", "middle").attr("font-family", FONT).attr("font-size", AXIS_FS).attr("fill", "black")
  .text("Frequency [Hz]");

const yg = svg.append("g").attr("transform", "translate(32,210.5) rotate(-90)");
const yt = yg.append("text").attr("text-anchor", "middle").attr("font-family", FONT).attr("font-size", AXIS_FS).attr("fill", "black");
yt.append("tspan").text("Strain [1\u2009/\u2009");
yt.append("tspan").text("\u221A");
const hz = yt.append("tspan").text("Hz");
yt.append("tspan").text("]");
try {
  const bb = hz.node().getBBox();
  yg.append("line").attr("x1", bb.x - 1).attr("x2", bb.x + bb.width).attr("y1", bb.y + 2.5).attr("y2", bb.y + 2.5)
    .attr("stroke", "black").attr("stroke-width", 1);
} catch (e) {}

// legend
const lg = svg.append("g").attr("transform", "translate(373.5,27.5)");
lg.append("rect").attr("width", 232).attr("height", 143).attr("rx", 4).attr("ry", 4)
  .attr("fill", "white").attr("stroke", "black").attr("stroke-width", 1);
seriesNames.forEach((name, i) => {
  const cy = 14.5 + i * 27.6;
  if (seriesKinds[i] === "line") {
    lg.append("line").attr("x1", 6.5).attr("x2", 39).attr("y1", cy).attr("y2", cy)
      .attr("stroke", seriesColors[i]).attr("stroke-width", 3);
  } else {
    lg.append("circle").attr("cx", 22).attr("cy", cy).attr("r", 5.2).attr("fill", seriesColors[i]);
  }
  lg.append("text").attr("x", 53).attr("y", cy).attr("dy", "0.34em").attr("text-anchor", "start")
    .attr("font-family", FONT).attr("font-size", LEGEND_FS).attr("fill", "black").text(name);
});
</script>
</body>
</html>
